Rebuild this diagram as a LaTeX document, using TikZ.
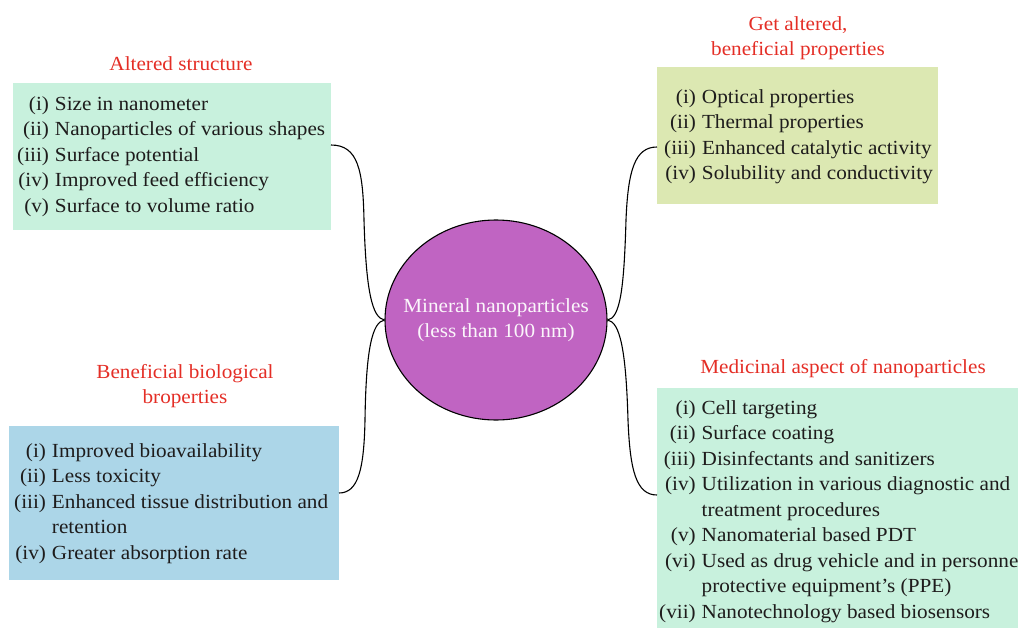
\documentclass[tikz,border=0pt]{standalone}
\usepackage{fontspec}
\setmainfont{Liberation Serif}[FakeStretch=1.06]
\usetikzlibrary{shapes.geometric}
\definecolor{mint}{RGB}{200,241,221}
\definecolor{lime}{RGB}{220,232,178}
\definecolor{sky}{RGB}{172,214,232}
\definecolor{orchid}{RGB}{192,100,194}
\definecolor{titlered}{RGB}{228,46,38}
\definecolor{bodytxt}{RGB}{30,28,28}
\newcommand\itemfnt{\fontsize{20}{25.5}\selectfont}
\tikzset{
  panel/.style={draw=none, inner sep=0pt, outer sep=0pt, anchor=north west},
  itemlist/.style={anchor=base west, inner sep=0pt, text=bodytxt, font=\itemfnt},
  heading/.style={anchor=base, inner sep=0pt, text=titlered, font=\itemfnt},
  link/.style={line width=1.1pt, black}
}
\begin{document}
\begin{tikzpicture}[x=1pt,y=-1pt]
\clip (0,0) rectangle (1018,627);
% panels
\node[panel, fill=mint, minimum width=318pt, minimum height=147pt] (b1) at (13,83) {};
\node[panel, fill=lime, minimum width=281pt, minimum height=137pt] (b2) at (657,67) {};
\node[panel, fill=sky, minimum width=330pt, minimum height=154pt] (b3) at (9,426) {};
\node[panel, fill=mint, minimum width=380pt, minimum height=260pt] (b4) at (657,388) {};
% headings
\node[heading] (h1) at (181,70) {Altered structure};
\node[heading] (h2) at (798,30) {\begin{tabular}[t]{@{}c@{}}Get altered,\\ beneficial properties\end{tabular}};
\node[heading] (h3) at (185,378) {\begin{tabular}[t]{@{}c@{}}Beneficial biological\\ broperties\end{tabular}};
\node[heading] (h4) at (843,373) {Medicinal aspect of nanoparticles};
% lists
\node[itemlist] (l1) at (17,110) {\begin{tabular}[t]{@{}r@{\hspace{6pt}}l@{}}
(i) & Size in nanometer\\
(ii) & Nanoparticles of various shapes\\
(iii) & Surface potential\\
(iv) & Improved feed efficiency\\
(v) & Surface to volume ratio
\end{tabular}};
\node[itemlist] (l2) at (664,103) {\begin{tabular}[t]{@{}r@{\hspace{6pt}}l@{}}
(i) & Optical properties\\
(ii) & Thermal properties\\
(iii) & Enhanced catalytic activity\\
(iv) & Solubility and conductivity
\end{tabular}};
\node[itemlist] (l3) at (14,457) {\begin{tabular}[t]{@{}r@{\hspace{6pt}}l@{}}
(i) & Improved bioavailability\\
(ii) & Less toxicity\\
(iii) & Enhanced tissue distribution and\\
 & retention\\
(iv) & Greater absorption rate
\end{tabular}};
\node[itemlist] (l4) at (659,414) {\begin{tabular}[t]{@{}r@{\hspace{6pt}}l@{}}
(i) & Cell targeting\\
(ii) & Surface coating\\
(iii) & Disinfectants and sanitizers\\
(iv) & Utilization in various diagnostic and\\
 & treatment procedures\\
(v) & Nanomaterial based PDT\\
(vi) & Used as drug vehicle and in personnel\\
 & protective equipment’s (PPE)\\
(vii) & Nanotechnology based biosensors
\end{tabular}};
% centre
\node[ellipse, draw=black, line width=1.1pt, fill=orchid, minimum width=222pt, minimum height=200pt, inner sep=0pt] (core) at (496,320) {};
\node[text=white!94!orchid, font=\itemfnt, align=center, inner sep=0pt] (coretext) at (core.center)
      {Mineral nanoparticles\\(less than 100 nm)};
% connector ends
\coordinate (e1) at (331,145);
\coordinate (e2) at (657,147);
\coordinate (e3) at (339,493);
\coordinate (e4) at (657,495);
\draw[link] (e1) .. controls (358,145) and (363,170) .. (364,220)
               .. controls (366,290) and (372,318) .. (core.west);
\draw[link] (core.west) .. controls (372,322) and (366,350) .. (365,420)
               .. controls (364,470) and (358,493) .. (e3);
\draw[link] (core.east) .. controls (620,318) and (624,290) .. (626,220)
               .. controls (628,170) and (635,147) .. (e2);
\draw[link] (core.east) .. controls (620,322) and (626,350) .. (628,420)
               .. controls (630,470) and (636,495) .. (e4);
\end{tikzpicture}
\end{document}
